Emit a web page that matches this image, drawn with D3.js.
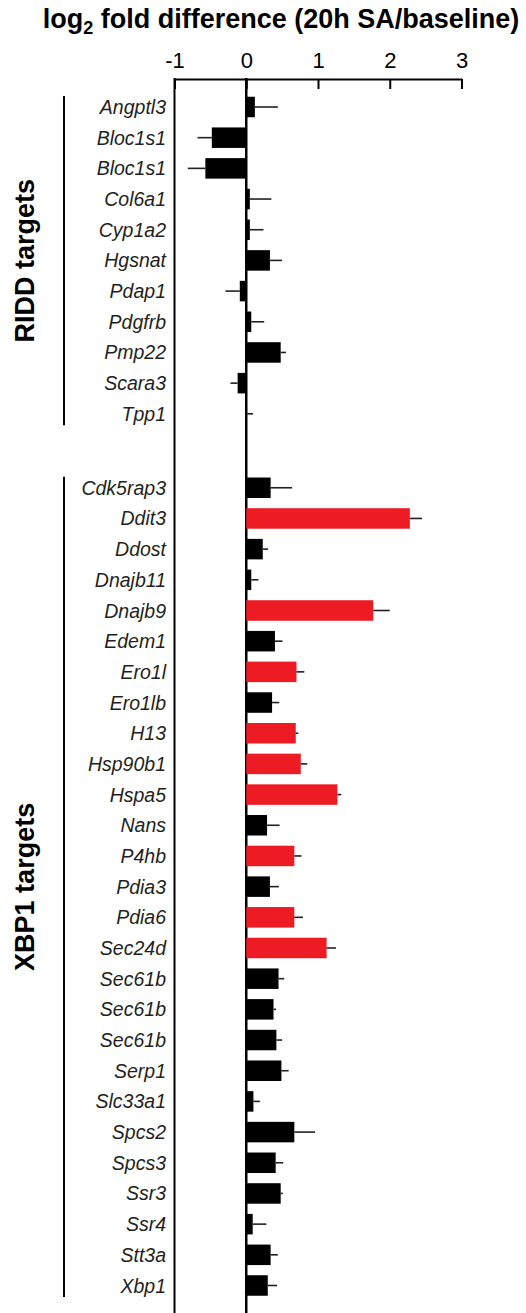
<!DOCTYPE html>
<html>
<head>
<meta charset="utf-8">
<script src="https://cdn.jsdelivr.net/npm/d3@7"></script>
<style>
  html, body { margin: 0; padding: 0; background: #fff; }
  svg { display: block; }
</style>
</head>
<body>
<svg id="chart" width="526" height="1313"></svg>
<script>
// ---- data ----
const riddGenes = ["Angptl3","Bloc1s1","Bloc1s1","Col6a1","Cyp1a2","Hgsnat","Pdap1","Pdgfrb","Pmp22","Scara3","Tpp1"];
const riddValues = [0.12, -0.48, -0.57, 0.05, 0.05, 0.33, -0.09, 0.07, 0.48, -0.12, 0.005];
const riddErrors = [0.32, 0.20, 0.245, 0.30, 0.19, 0.17, 0.20, 0.18, 0.075, 0.10, 0.09];
const riddHighlight = [false,false,false,false,false,false,false,false,false,false,false];

const xbp1Genes = ["Cdk5rap3","Ddit3","Ddost","Dnajb11","Dnajb9","Edem1","Ero1l","Ero1lb","H13","Hsp90b1","Hspa5","Nans","P4hb","Pdia3","Pdia6","Sec24d","Sec61b","Sec61b","Sec61b","Serp1","Slc33a1","Spcs2","Spcs3","Ssr3","Ssr4","Stt3a","Xbp1"];
const xbp1Values = [0.34, 2.28, 0.23, 0.07, 1.77, 0.40, 0.70, 0.36, 0.69, 0.76, 1.27, 0.29, 0.67, 0.33, 0.67, 1.12, 0.45, 0.38, 0.42, 0.49, 0.10, 0.67, 0.41, 0.48, 0.09, 0.34, 0.30];
const xbp1Errors = [0.30, 0.17, 0.075, 0.10, 0.23, 0.105, 0.11, 0.10, 0.035, 0.09, 0.055, 0.175, 0.10, 0.125, 0.12, 0.13, 0.08, 0.035, 0.08, 0.10, 0.09, 0.29, 0.105, 0.03, 0.19, 0.10, 0.13];
const xbp1Highlight = [false,true,false,false,true,false,true,false,true,true,true,false,true,false,true,true,false,false,false,false,false,false,false,false,false,false,false];

const groupLabels = ["RIDD targets", "XBP1 targets"];
const tickValues = [-1, 0, 1, 2, 3];
const titleMain = "log";
const titleSub = "2";
const titleRest = " fold difference (20h SA/baseline)";

// ---- layout ----
const W = 526, H = 1313;
const gapRows = 1.41; // extra spacing between the two groups (in row units)
const svg = d3.select("#chart");

const rows = [];
riddGenes.forEach((g, i) => rows.push({gene: g, value: riddValues[i], err: riddErrors[i], red: riddHighlight[i], pos: i, group: 0}));
xbp1Genes.forEach((g, i) => rows.push({gene: g, value: xbp1Values[i], err: xbp1Errors[i], red: xbp1Highlight[i], pos: riddGenes.length + gapRows + i, group: 1}));
const lastPos = d3.max(rows, d => d.pos);

const x = d3.scaleLinear().domain([-1, 3]).range([174.5, 461.5]);
const y = d3.scaleLinear().domain([0, lastPos]).range([107, 1285.5]);
const barH = 20.5;
const axisY = 79;

// title
const title = svg.append("text")
  .attr("x", 281).attr("y", 28)
  .attr("text-anchor", "middle")
  .style("font-family", "'Liberation Sans', Arial, sans-serif")
  .style("font-weight", "bold")
  .style("font-size", "27px")
  .attr("fill", "#000");
title.append("tspan").text(titleMain);
title.append("tspan").text(titleSub).attr("dy", 6).style("font-size", "18px");
title.append("tspan").text(titleRest).attr("dy", -6);

// axis
const axis = d3.axisTop(x).tickValues(tickValues).tickFormat(d3.format("d"))
  .tickSizeInner(-10).tickSizeOuter(0).tickPadding(11);
const gA = svg.append("g").attr("transform", `translate(0,${axisY})`).call(axis);
gA.select(".domain").attr("stroke", "#000").attr("stroke-width", 2);
gA.selectAll(".tick line").attr("stroke", "#000").attr("stroke-width", 2);
gA.selectAll(".tick text")
  .style("font-family", "'Liberation Sans', Arial, sans-serif")
  .style("font-size", "22px")
  .attr("fill", "#000")
  .text(d => d < 0 ? "-" + Math.abs(d) : d);

// frame lines: x=-1 left line and zero line
svg.append("line").attr("x1", x(-1)).attr("x2", x(-1)).attr("y1", axisY - 1).attr("y2", H)
  .attr("stroke", "#000").attr("stroke-width", 2);
svg.append("line").attr("x1", x(0)).attr("x2", x(0)).attr("y1", axisY - 1).attr("y2", H)
  .attr("stroke", "#000").attr("stroke-width", 2.5);

// bars
svg.append("g").selectAll("rect").data(rows).join("rect")
  .attr("x", d => x(Math.min(0, d.value)))
  .attr("width", d => Math.abs(x(d.value) - x(0)))
  .attr("y", d => y(d.pos) - barH / 2)
  .attr("height", barH)
  .attr("fill", d => d.red ? "#ed1c24" : "#000");

// error bars
svg.append("g").selectAll("line").data(rows).join("line")
  .attr("x1", d => x(d.value))
  .attr("x2", d => x(d.value + (d.value < 0 ? -d.err : d.err)))
  .attr("y1", d => y(d.pos)).attr("y2", d => y(d.pos))
  .attr("stroke", "#222").attr("stroke-width", 1.6);

// gene labels
svg.append("g").selectAll("text").data(rows).join("text")
  .attr("x", 166).attr("y", d => y(d.pos))
  .attr("dy", "0.36em")
  .attr("text-anchor", "end")
  .style("font-family", "'Liberation Sans', Arial, sans-serif")
  .style("font-style", "italic")
  .style("font-size", "19.5px")
  .attr("fill", "#231f20")
  .text(d => d.gene);

// group brackets & labels
[0, 1].forEach(g => {
  const gr = rows.filter(r => r.group === g);
  const y0 = y(d3.min(gr, r => r.pos)) - 11;
  const y1 = y(d3.max(gr, r => r.pos)) + 11.5;
  svg.append("line").attr("x1", 64).attr("x2", 64).attr("y1", y0).attr("y2", y1)
    .attr("stroke", "#000").attr("stroke-width", 2);
  const cy = (y0 + y1) / 2;
  svg.append("text")
    .attr("transform", `translate(34,${cy}) rotate(-90)`)
    .attr("text-anchor", "middle")
    .style("font-family", "'Liberation Sans', Arial, sans-serif")
    .style("font-weight", "bold")
    .style("font-size", "27px")
    .attr("fill", "#000")
    .text(groupLabels[g]);
});
</script>
</body>
</html>
